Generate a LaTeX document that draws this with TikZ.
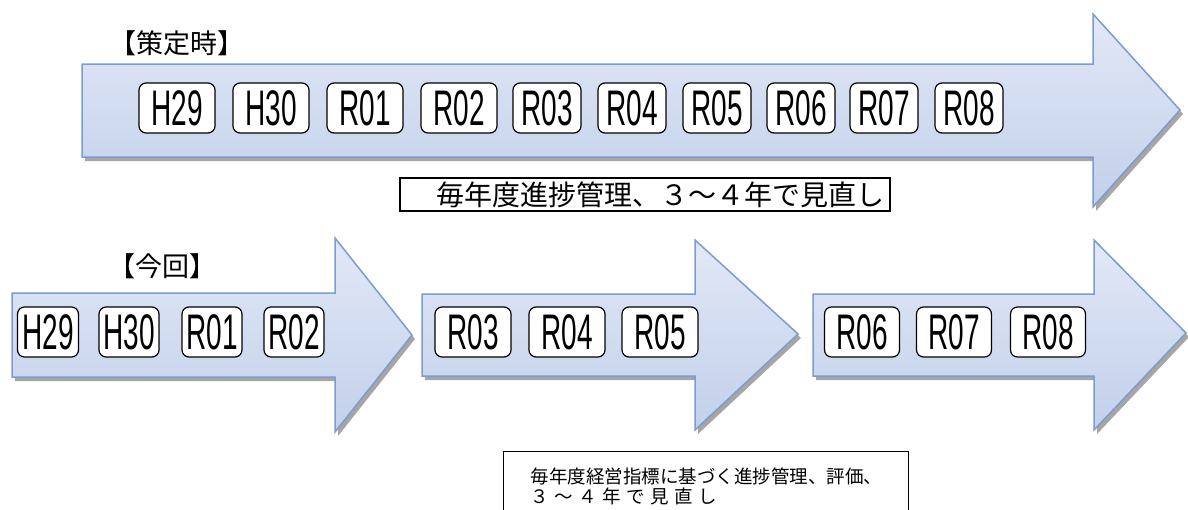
\documentclass[tikz,border=0pt]{standalone}
\usepackage{fontspec}
\usepackage{xcolor}
\usepackage{tikz}
\newfontfamily\jpfont{Noto Sans CJK JP}
\newfontfamily\yearfont[FakeStretch=0.56]{Liberation Sans}
\definecolor{arrowline}{RGB}{124, 155, 209}
\definecolor{arrowtop}{RGB}{226, 232, 246}
\definecolor{arrowbottom}{RGB}{194, 208, 235}

\tikzset{
    flowarrow/.style={draw=arrowline, line width=1.5pt, top color=arrowtop, bottom color=arrowbottom},
    flowshadow/.style={fill=black!35, shift={(3,4)}},
    yearbox/.style={draw, fill=white, rounded corners=7pt, line width=1.2pt, inner sep=0pt,
        minimum height=50pt, font=\yearfont\fontsize{50}{50}\selectfont},
    notebox/.style={draw, fill=white, line width=1.3pt, font=\jpfont}
}
\newcommand{\shadowarrow}[1]{\fill[flowshadow] #1; \draw[flowarrow] #1;}

\begin{document}
\begin{tikzpicture}[x=1pt, y=-1pt]
    \clip (0,0) rectangle (1188,509);

    % Arrows
    \shadowarrow{(82,64) -- (1093,64) -- (1093,14) -- (1180,110) -- (1093,207) -- (1093,157) -- (82,157) -- cycle}
    \shadowarrow{(12,293) -- (335,293) -- (335,238) -- (412,335) -- (335,432) -- (335,377) -- (12,377) -- cycle}
    \shadowarrow{(422,294) -- (695,294) -- (695,240) -- (798,334) -- (695,430) -- (695,376) -- (422,376) -- cycle}
    \shadowarrow{(813,294) -- (1094,294) -- (1094,240) -- (1186,333) -- (1094,430) -- (1094,376) -- (813,376) -- cycle}

    % Headings
    \node[font=\jpfont\fontsize{27}{27}\selectfont] (planlabel) at (177,43) {【策定時】};
    \node[font=\jpfont\fontsize{27}{27}\selectfont] (nowlabel) at (162,266) {【今回】};

    % Years when planned
    \foreach \name/\x/\w in {H29/177/76, H30/271/76, R01/365/76, R02/459/76, R03/547/68, R04/632/68, R05/717/68, R06/801/68, R07/884/68, R08/969/68} {
        \node[yearbox, minimum width=\w pt] (plan\name) at (\x,108) {\name};
    }

    % Years this time
    \foreach \name/\x/\w in {H29/48/61, H30/129/60, R01/212/60, R02/294/60, R03/473/76, R04/567/76, R05/660/76, R06/862/75, R07/954/75, R08/1048/75} {
        \node[yearbox, minimum width=\w pt] (now\name) at (\x,332) {\name};
    }

    % Notes
    \node[notebox, minimum height=33pt, inner xsep=6pt, inner ysep=0pt, text width=478pt, align=right,
        font=\jpfont\fontsize{28}{28}\selectfont] (plannote) at (645,194.5) {毎年度進捗管理、３～４年で見直し};
    \node[notebox, anchor=north west, inner xsep=27pt, inner ysep=16pt, text width=351pt, align=left,
        font=\jpfont\fontsize{18.5}{20}\selectfont] (nownote) at (503,451) {毎年度経営指標に基づく進捗管理、評価、\\{\addfontfeature{LetterSpace=30}３～４年で見直し}};
\end{tikzpicture}
\end{document}
